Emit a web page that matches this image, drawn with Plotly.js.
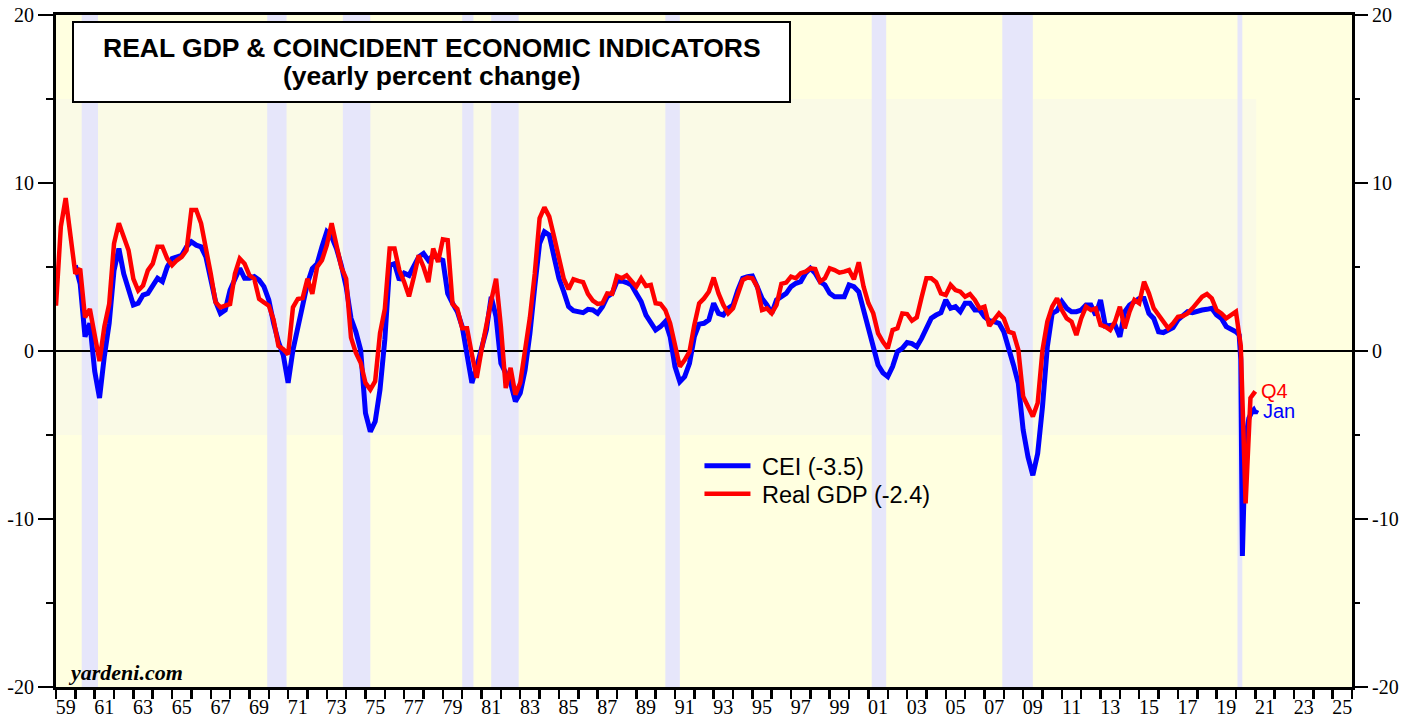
<!DOCTYPE html>
<html><head><meta charset="utf-8">
<script src="https://cdn.plot.ly/plotly-3.0.1.min.js"></script>
<style>html,body{margin:0;padding:0;background:#fff}#chart{width:1417px;height:721px}</style>
</head><body><div id="chart"></div>
<script>
// Real GDP, yearly % change, quarterly (1958Q4 .. 2020Q4), plotted at quarter end
const gdpStartYear = 1959.0;
const gdpYoY = [
  2.7, 7.4, 9.1, 6.6,
  4.6, 4.9, 2.0, 2.5,
  0.9, -0.6, 1.45, 2.8,
  6.4, 7.6, 6.8, 6.0,
  4.3, 3.6, 3.9, 4.8,
  5.2, 6.2, 6.2, 5.5,
  5.1, 5.4, 5.6, 6.0,
  8.4, 8.4, 7.6, 6.2,
  4.6, 2.9, 2.6, 2.7,
  2.8, 4.6, 5.5, 5.2,
  4.5, 4.3, 3.1, 2.9,
  2.7, 1.85, 0.3, 0.1,
  -0.2, 2.6, 3.1, 3.15,
  4.3, 3.4, 5.0, 5.4,
  6.3, 7.6, 6.3, 5.0,
  4.3, 0.8, -0.1, -0.7,
  -1.9, -2.3, -1.8, 1.05,
  2.5, 6.1, 6.1, 4.8,
  4.1, 3.25, 4.4, 5.7,
  5.0, 4.1, 6.1, 5.3,
  6.65, 6.6, 2.8, 2.5,
  1.35, 1.35, -0.2, -1.6,
  0.06, 1.6, 3.0, 4.3,
  1.45, -2.2, -1.0, -2.6,
  -1.9, 0.06, 2.0, 4.6,
  7.9, 8.55, 8.0, 6.8,
  5.4, 4.3, 3.67, 4.27,
  4.17, 4.1, 3.4, 3.0,
  2.8, 2.84, 3.43, 3.4,
  4.46, 4.33, 4.5, 4.2,
  3.83, 4.33, 3.87, 3.93,
  2.84, 2.8, 2.44, 1.65,
  0.46, -0.93, -0.54, -0.04,
  1.55, 2.84, 3.13, 3.53,
  4.37, 3.43, 2.74, 2.24,
  2.54, 3.43, 4.23, 4.37,
  4.33, 3.83, 2.44, 2.54,
  2.24, 2.74, 4.0, 4.07,
  4.43, 4.33, 4.63, 4.72,
  4.92, 4.88, 4.13, 4.33,
  4.92, 4.82, 4.66, 4.72,
  4.82, 4.27, 5.28, 3.83,
  2.84, 2.24, 1.05, 0.55,
  0.16, 1.25, 1.35, 2.24,
  2.2, 1.8, 2.0, 3.2,
  4.33, 4.33, 4.1, 3.43,
  3.33, 3.93, 3.63, 3.53,
  3.23, 3.39, 3.04, 2.54,
  2.64, 1.49, 1.85, 2.24,
  1.94, 1.15, 1.05, 0.06,
  -2.7, -3.3, -3.9, -3.1,
  0.06, 1.75, 2.64, 3.13,
  2.44, 1.94, 1.75, 0.95,
  1.94, 2.64, 2.44, 2.54,
  1.55, 1.45, 1.25, 1.75,
  2.64, 1.35, 2.34, 3.04,
  2.84, 4.13, 3.43, 2.54,
  2.14, 1.75, 1.35, 1.65,
  2.04, 2.08, 2.24, 2.54,
  2.94, 3.23, 3.39, 3.13,
  2.44, 2.24, 1.94, 2.14,
  2.34, 0.3, -9.07, -2.8,
  -2.4
];

// Coincident Economic Indicators, yearly % change, read quarterly (Dec 1959 .. Sep 2019)
const ceiStartYear = 1960.0;
const ceiQuarterly = [
  5.1, 4.0, 0.85, 1.65,
  -1.2, -2.8, -0.3, 1.65,
  4.8, 6.1, 4.6, 3.7,
  2.74, 2.84, 3.33, 3.43,
  3.93, 4.33, 4.13, 5.0,
  5.5, 5.6, 5.7, 6.2,
  6.5, 6.3, 6.2, 5.6,
  4.23, 2.94, 2.24, 2.44,
  3.63, 4.23, 4.92, 4.33,
  4.33, 4.43, 4.23, 3.83,
  3.04, 1.65, 0.55, -0.24,
  -1.9, 0.06, 1.45, 2.84,
  4.03, 4.9, 5.2, 6.2,
  7.1, 6.8, 6.1, 5.1,
  3.83, 1.95, 1.15, 0.06,
  -3.7, -4.8, -4.2, -2.3,
  0.7, 5.1, 5.2, 4.23,
  4.63, 4.5, 5.1, 5.6,
  5.8, 5.4, 5.7, 5.5,
  5.4, 3.43, 2.84, 2.34,
  1.45, -0.34, -1.9, -0.93,
  0.06, 1.25, 3.23, 2.04,
  -0.73, -1.33, -1.9, -3.0,
  -2.5, -1.13, 1.05, 3.83,
  6.4, 7.1, 6.9, 5.6,
  4.33, 3.53, 2.64, 2.4,
  2.34, 2.28, 2.48, 2.44,
  2.24, 2.64, 3.23, 3.43,
  4.13, 4.17, 4.07, 3.93,
  3.43, 2.94, 2.14, 1.75,
  1.25, 1.45, 1.75, 0.85,
  -0.93, -1.83, -1.53, -0.73,
  0.85, 1.6, 1.65, 1.85,
  2.84, 2.24, 2.14, 2.54,
  2.74, 3.63, 4.33, 4.43,
  4.47, 3.83, 3.13, 2.74,
  2.24, 3.04, 3.23, 3.43,
  3.83, 4.03, 4.13, 4.63,
  4.92, 4.63, 4.13, 3.93,
  3.43, 3.23, 3.23, 3.23,
  3.93, 3.83, 3.53, 2.44,
  1.45, 0.26, -0.83, -1.3,
  -1.53, -0.93, -0.04, 0.16,
  0.5, 0.44, 0.25, 0.75,
  1.35, 1.95, 2.14, 2.28,
  3.04, 2.54, 2.64, 2.34,
  2.84, 2.84, 2.44, 2.44,
  2.04, 1.8, 1.75, 1.65,
  1.15, 0.26, -0.83, -1.93,
  -4.7, -6.3, -7.4, -6.1,
  -3.3, 0.26, 2.24, 2.4,
  2.94, 2.54, 2.34, 2.34,
  2.44, 2.74, 2.74, 2.14,
  3.04, 1.49, 1.55, 1.55,
  0.85, 2.34, 2.74, 2.94,
  3.13, 3.13, 2.24, 1.94,
  1.15, 1.1, 1.25, 1.4,
  1.85, 2.08, 2.34, 2.28,
  2.4, 2.44, 2.48, 2.54,
  2.14, 1.94, 1.45, 1.3
];
// Monthly tail, Oct 2019 .. Jan 2021 (month-end positions)
const ceiTailDates = [2019.833, 2019.917, 2020.0, 2020.083, 2020.167, 2020.25, 2020.333, 2020.417,
  2020.5, 2020.583, 2020.667, 2020.75, 2020.833, 2020.917, 2021.0, 2021.083];
const ceiTail = [1.3, 1.25, 1.15, 1.05, 0.95, -0.5, -12.2, -8.5, -6.0, -4.6, -4.0, -3.7, -3.6, -3.5, -3.7, -3.5];

// NBER recessions (start, end) in decimal years
const recessions = [[1960.33,1961.17],[1969.92,1970.92],[1973.83,1975.25],[1980.0,1980.58],
  [1981.5,1982.92],[1990.5,1991.25],[2001.17,2001.92],[2007.92,2009.5],[2020.08,2020.33]];

const xTickPos = [1959.5,1961.5,1963.5,1965.5,1967.5,1969.5,1971.5,1973.5,1975.5,1977.5,1979.5,
  1981.5,1983.5,1985.5,1987.5,1989.5,1991.5,1993.5,1995.5,1997.5,1999.5,2001.5,2003.5,2005.5,
  2007.5,2009.5,2011.5,2013.5,2015.5,2017.5,2019.5,2021.5,2023.5,2025.5];
const xTickLabels = ['59','61','63','65','67','69','71','73','75','77','79','81','83','85','87','89',
  '91','93','95','97','99','01','03','05','07','09','11','13','15','17','19','21','23','25'];
const yTickVals = [-20, -10, 0, 10, 20];
const yTickLabels = ['-20', '-10', '0', '10', '20'];

const seriesNames = ['\u00A0CEI (-3.5)', '\u00A0Real GDP (-2.4)'];
const endLabels = ['Q4', 'Jan'];
const titleLines = ['REAL GDP & COINCIDENT ECONOMIC INDICATORS', '(yearly percent change)'];

const gdpX = gdpYoY.map((_, i) => gdpStartYear + i * 0.25);
const ceiX = ceiQuarterly.map((_, i) => ceiStartYear + i * 0.25).concat(ceiTailDates);
const ceiY = ceiQuarterly.concat(ceiTail);

const traces = [
  {x: ceiX, y: ceiY, type: 'scatter', mode: 'lines', name: seriesNames[0], legend: 'legend',
   xaxis: 'x', yaxis: 'y', line: {color: '#0000FF', width: 5}},
  {x: gdpX, y: gdpYoY, type: 'scatter', mode: 'lines', name: seriesNames[1], legend: 'legend2',
   xaxis: 'x', yaxis: 'y2', line: {color: '#FF0000', width: 4.5}}
];

const shapes = [];
recessions.forEach(r => shapes.push({type: 'rect', xref: 'x', yref: 'y', x0: r[0], x1: r[1],
  y0: -20, y1: 20, fillcolor: '#E6E6FA', line: {width: 0}, layer: 'below'}));
// pale panel behind the data (drawn below the recession bands)
shapes.unshift({type: 'rect', xref: 'x', yref: 'y', x0: 1959, x1: 2021.05, y0: -5, y1: 15,
  fillcolor: '#FAFAE6', line: {width: 0}, layer: 'below'});
// title box
shapes.push({type: 'rect', xref: 'paper', yref: 'paper', x0: (73 - 56) / 1296, x1: (790 - 56) / 1296,
  y0: (687 - 102) / 672, y1: (687 - 22) / 672, fillcolor: '#FFFFFF', line: {color: '#000', width: 2},
  layer: 'above'});

const serif = 'Liberation Serif, Times New Roman, serif';
const sans = 'Liberation Sans, Arial, sans-serif';
const legendCommon = {xanchor: 'left', yanchor: 'middle', bgcolor: 'rgba(0,0,0,0)', borderwidth: 0,
  font: {family: sans, size: 23.5, color: '#000'}, itemwidth: 46};
const yMinor = {tickmode: 'linear', tick0: -20, dtick: 5, ticks: 'outside', ticklen: 7, tickwidth: 1.5,
  tickcolor: '#000', showgrid: false};

const layout = {
  width: 1417, height: 721,
  margin: {l: 56, r: 65, t: 15, b: 34, pad: 0},
  paper_bgcolor: '#FFFFFF', plot_bgcolor: '#FFFFE0',
  showlegend: true,
  legend: Object.assign({x: 0.4965, y: (687 - 466) / 672}, legendCommon),
  legend2: Object.assign({x: 0.4965, y: (687 - 494) / 672}, legendCommon),
  xaxis: {range: [1959, 2026], tickmode: 'array', tickvals: xTickPos, ticktext: xTickLabels,
    ticks: '', ticklen: 0, showgrid: false, zeroline: false,
    showline: true, linecolor: '#000', linewidth: 3, mirror: true,
    tickfont: {family: serif, size: 20, color: '#000'},
    minor: {tickmode: 'linear', tick0: 1959, dtick: 1, ticks: 'outside', ticklen: 9, tickwidth: 2.5,
      tickcolor: '#000', showgrid: false}},
  yaxis: {range: [-20, 20], tickmode: 'array', tickvals: yTickVals, ticktext: yTickLabels,
    ticks: 'outside', ticklen: 15, tickwidth: 1.5, tickcolor: '#000', showgrid: false,
    zeroline: true, zerolinecolor: '#000', zerolinewidth: 1.3,
    showline: true, linecolor: '#000', linewidth: 3, mirror: true,
    tickfont: {family: serif, size: 20, color: '#000'}, minor: yMinor},
  yaxis2: {range: [-20, 20], overlaying: 'y', side: 'right', tickmode: 'array', tickvals: yTickVals,
    ticktext: yTickLabels, ticks: 'outside', ticklen: 15, tickwidth: 1.5, tickcolor: '#000',
    showgrid: false, zeroline: false, showline: false,
    tickfont: {family: serif, size: 20, color: '#000'}, minor: yMinor},
  shapes: shapes,
  annotations: [
    {xref: 'paper', yref: 'paper', x: (432 - 56) / 1296, y: (687 - 48) / 672, xanchor: 'center', yanchor: 'middle',
     text: '<b>' + titleLines[0] + '</b>', showarrow: false, font: {family: sans, size: 26.5, color: '#000'}},
    {xref: 'paper', yref: 'paper', x: (432 - 56) / 1296, y: (687 - 76) / 672, xanchor: 'center', yanchor: 'middle',
     text: '<b>' + titleLines[1] + '</b>', showarrow: false, font: {family: sans, size: 26.5, color: '#000'}},
    {xref: 'paper', yref: 'paper', x: (66 - 56) / 1296, y: (687 - 672) / 672, xanchor: 'left', yanchor: 'middle',
     text: '<b><i>yardeni.com</i></b>', showarrow: false, font: {family: serif, size: 22, color: '#000'}},
    {xref: 'x', yref: 'y', x: 2021.2, y: gdpYoY[gdpYoY.length - 1], xanchor: 'left', yanchor: 'middle',
     text: endLabels[0], showarrow: false, font: {family: sans, size: 20, color: '#FF0000'}},
    {xref: 'x', yref: 'y', x: 2021.3, y: ceiTail[ceiTail.length - 1] - 0.05, xanchor: 'left', yanchor: 'middle',
     text: endLabels[1], showarrow: false, font: {family: sans, size: 20, color: '#0000FF'}}
  ]
};

Plotly.newPlot('chart', traces, layout, {displayModeBar: false, staticPlot: true});
</script></body></html>
